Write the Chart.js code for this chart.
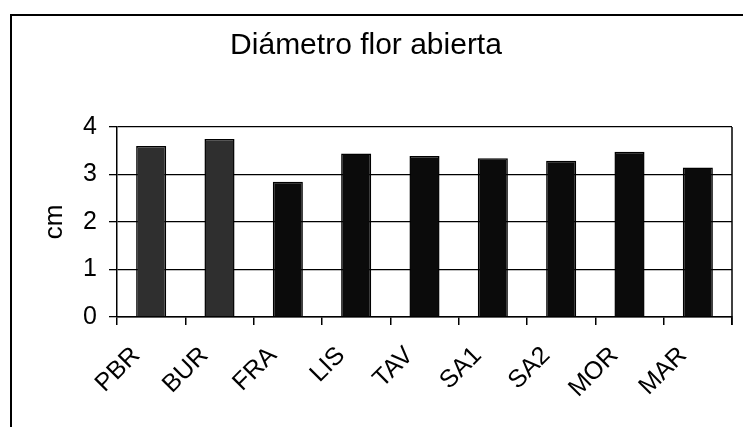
<!DOCTYPE html>
<html>
<head>
<meta charset="utf-8">
<script src="https://cdn.jsdelivr.net/npm/chart.js@4/dist/chart.umd.min.js"></script>
<style>
  html, body { margin: 0; padding: 0; background: #fff; }
  #wrap { width: 743px; height: 427px; position: relative; }
</style>
</head>
<body>
<div id="wrap"><canvas id="chart"></canvas></div>
<script>
// ---- data ----
const categories = ['PBR', 'BUR', 'FRA', 'LIS', 'TAV', 'SA1', 'SA2', 'MOR', 'MAR'];
const diameterCm = [3.60, 3.75, 2.85, 3.44, 3.39, 3.34, 3.29, 3.48, 3.15];
const yTicks = [0, 1, 2, 3, 4];

const FONT = '"Liberation Sans", Arial, sans-serif';

// first two bars are a lighter, speckled grey in the scan
const barColors = categories.map((c, i) => (i < 2 ? '#2f2f2f' : '#0b0b0b'));

// outer frame (top + left only, the rest is cut off) and plot right edge
const framePlugin = {
  id: 'frame',
  beforeDraw(chart) {
    const ctx = chart.ctx;
    ctx.save();
    ctx.fillStyle = '#fff';
    ctx.fillRect(0, 0, chart.width, chart.height);
    ctx.strokeStyle = '#000';
    ctx.lineWidth = 2;
    ctx.beginPath();
    ctx.moveTo(11, chart.height);
    ctx.lineTo(11, 15);
    ctx.lineTo(chart.width, 15);
    ctx.stroke();
    ctx.restore();
  },
  afterDatasetsDraw(chart) {
    const { ctx, chartArea: a } = chart;
    ctx.save();
    ctx.strokeStyle = '#000';
    ctx.lineWidth = 1.5;
    ctx.beginPath();
    ctx.moveTo(a.right, a.top);
    ctx.lineTo(a.right, a.bottom + 8);
    ctx.stroke();
    ctx.restore();
  }
};

new Chart(document.getElementById('chart'), {
  type: 'bar',
  data: {
    labels: categories,
    datasets: [{
      label: 'Diámetro',
      data: diameterCm,
      backgroundColor: barColors,
      borderColor: '#000',
      borderWidth: 1.5,
      barPercentage: 0.44,
      categoryPercentage: 1.0,
    }],
  },
  options: {
    responsive: true,
    maintainAspectRatio: false,
    animation: false,
    devicePixelRatio: 1,
    layout: { padding: { top: 15, right: 11, left: 0, bottom: 0 } },
    plugins: {
      legend: { display: false },
      tooltip: { enabled: false },
      title: {
        display: true,
        text: 'Diámetro flor abierta',
        color: '#000',
        font: { family: FONT, size: 30, weight: 'normal' },
        padding: { top: 13, bottom: 63 },
      },
    },
    scales: {
      x: {
        offset: true,
        grid: {
          offset: true,
          drawOnChartArea: false,
          drawTicks: true,
          tickLength: 8,
          color: '#000',
          lineWidth: 1.5,
        },
        border: { display: true, color: '#000', width: 1.5 },
        ticks: {
          color: '#000',
          font: { family: FONT, size: 25 },
          minRotation: 45,
          maxRotation: 45,
          padding: 16,
          labelOffset: -15,
        },
        afterFit(scale) { scale.height = 110; },
      },
      y: {
        min: 0,
        max: 4,
        afterBuildTicks(scale) { scale.ticks = yTicks.map(v => ({ value: v })); },
        grid: {
          color: '#000',
          lineWidth: 1.3,
          tickLength: 8,
        },
        border: { display: true, color: '#000', width: 1.5 },
        ticks: {
          color: '#000',
          font: { family: FONT, size: 25 },
          padding: 12,
        },
        title: {
          display: true,
          text: 'cm',
          color: '#000',
          font: { family: FONT, size: 26 },
          padding: { top: 39, bottom: 0 },
        },
        afterFit(scale) { scale.width = 117; },
      },
    },
  },
  plugins: [framePlugin],
});
</script>
</body>
</html>
